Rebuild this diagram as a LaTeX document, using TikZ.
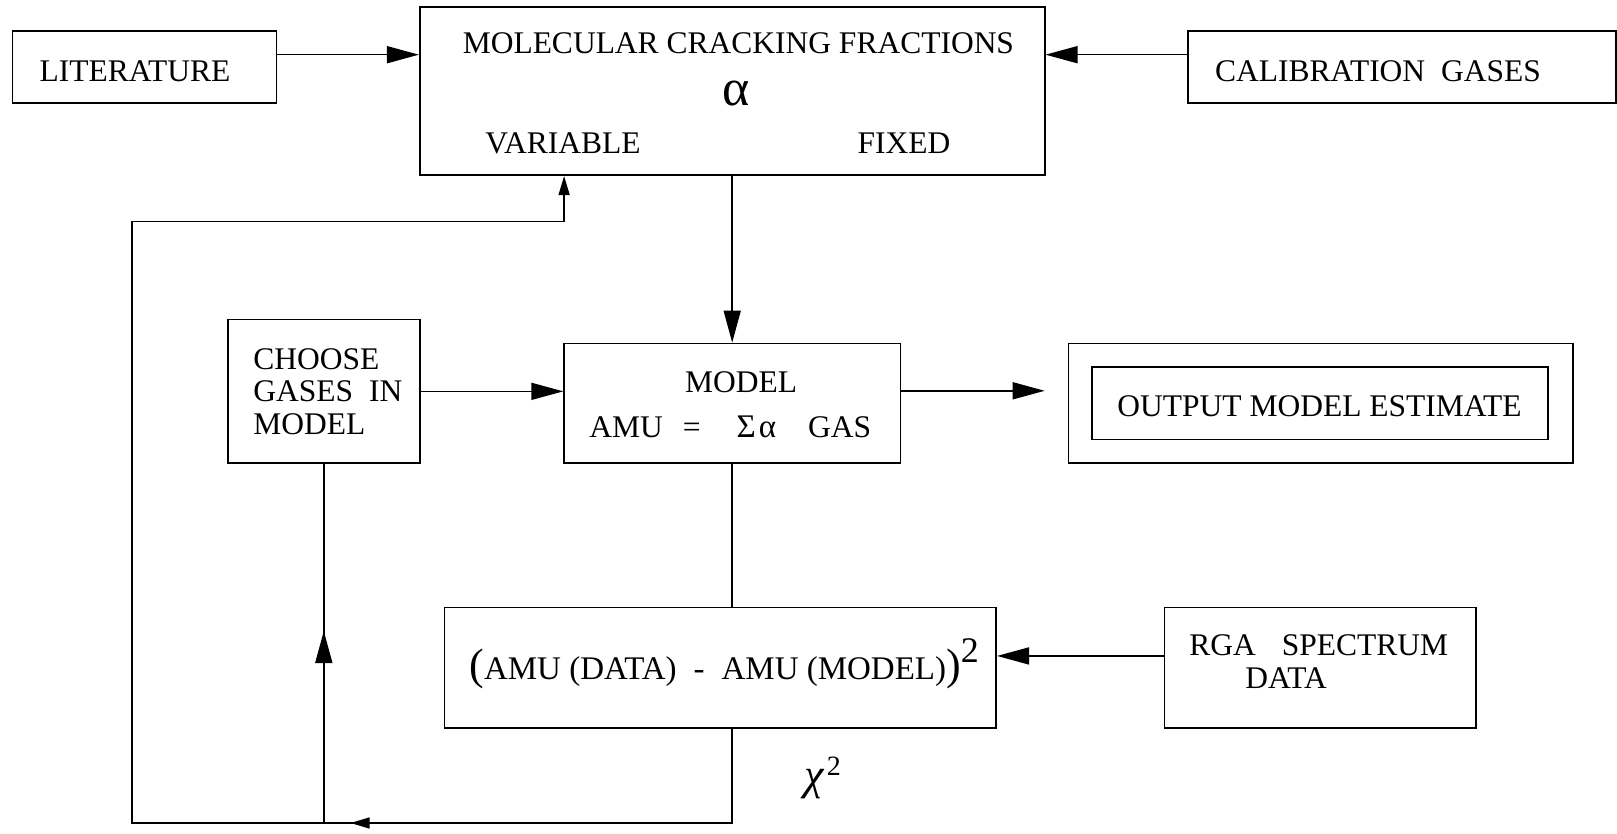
\documentclass[tikz,border=0pt]{standalone}
\usepackage{fontspec}
\setmainfont{Liberation Serif}
\usetikzlibrary{arrows.meta}
\begin{document}
\begin{tikzpicture}[x=0.5pt,y=-0.5pt,
  box/.style={draw, line width=0.8pt, inner sep=0pt},
  lbl/.style={inner sep=0pt, font=\fontsize{15.75}{17}\selectfont},
  ln/.style={line width=0.8pt},
  arr/.style={ln, -{Triangle[length=16pt,width=8.5pt]}},
  sarr/.style={ln, -{Triangle[length=9.5pt,width=5.5pt]}},
]
\useasboundingbox (0,0) rectangle (1617,834);
% boxes
\node[box, minimum width=132pt, minimum height=36.1pt] (lit) at (144.4,67) {};
\node[box, minimum width=312.5pt, minimum height=84pt] (top) at (732.2,91.25) {};
\node[box, minimum width=214pt, minimum height=36.1pt] (cal) at (1402,67) {};
\node[box, minimum width=95.9pt, minimum height=71.65pt] (choose) at (323.8,391.35) {};
\node[box, minimum width=168.1pt, minimum height=59.8pt] (model) at (732.2,403.2) {};
\node[box, minimum width=252.15pt, minimum height=59.8pt] (outer) at (1320.55,403.2) {};
\node[box, minimum width=227.9pt, minimum height=36.1pt] (inner) at (1320,403.2) {};
\node[box, minimum width=275.85pt, minimum height=60.35pt] (diff) at (720.35,667.75) {};
\node[box, minimum width=155.7pt, minimum height=60.35pt] (rga) at (1320,667.75) {};
% texts
\node[lbl, anchor=base west] (tlit) at (39.2,81.5) {LITERATURE};
\node[lbl, anchor=base west] (tcal) at (1214.8,81.5) {CALIBRATION\hspace{8pt}GASES};
\node[lbl, anchor=base] (tmol) at (738.4,53.6) {MOLECULAR CRACKING FRACTIONS};
\node[lbl, anchor=base, font=\fontsize{26}{26}\selectfont] (talpha) at (736,106) {α};
\node[lbl, anchor=base] (tvar) at (563,153.7) {VARIABLE};
\node[lbl, anchor=base] (tfix) at (904,153.7) {FIXED};
\node[lbl, anchor=base west] (tch1) at (253,369) {CHOOSE};
\node[lbl, anchor=base west] (tch2) at (253,401.5) {GASES\hspace{8pt}IN};
\node[lbl, anchor=base west] (tch3) at (253,434) {MODEL};
\node[lbl, anchor=base] (tmod) at (741,393) {MODEL};
\node[lbl, anchor=base west] (teq) at (589,437.5) {AMU\hspace{10pt}=\hspace{18pt}{\fontsize{16.5}{16.5}\selectfont Σ\hspace{1.5pt}α}\hspace{16pt}GAS};
\node[lbl, anchor=base west] (tout) at (1117,416) {OUTPUT MODEL ESTIMATE};
\node[lbl, anchor=base west, font=\fontsize{16.5}{17}\selectfont] (tdiff) at (469,679) {{\fontsize{22}{22}\selectfont(}AMU (DATA)\hspace{8.5pt}-\hspace{8.5pt}AMU (MODEL){\fontsize{22}{22}\selectfont)}\raisebox{8.5pt}{\fontsize{18}{18}\selectfont 2}};
\node[lbl, anchor=base west] (trga1) at (1189,655) {RGA\hspace{13pt}SPECTRUM};
\node[lbl, anchor=base west] (trga2) at (1245,688) {DATA};
\node[lbl, anchor=base west] (tchi) at (804,789) {{\fontsize{22}{22}\selectfont\itshape χ}\hspace{1.5pt}\raisebox{7pt}{\fontsize{14}{14}\selectfont 2}};
% coordinates
\coordinate (fbR) at (732.2,823);
\coordinate (fbL) at (132,823);
\coordinate (fbTL) at (132,221.7);
\coordinate (fbTR) at (564.1,221.7);
\coordinate (botTip) at (350.6,823);
\coordinate (upTip) at (323.8,631);
\coordinate (outTip) at (1044.7,390.8);
% connectors
\draw[arr] ([yshift=6.15pt]lit.east) -- ([yshift=6.15pt]lit.east -| top.west);
\draw[arr] ([yshift=6.15pt]cal.west) -- ([yshift=6.15pt]cal.west -| top.east);
\draw[arr] (top.south) -- (model.north);
\draw[arr] (choose.east) -- (choose.east -| model.west);
\draw[arr] ([yshift=6.2pt]model.east) -- (outTip);
\draw[ln] (model.south) -- (model.south |- diff.north);
\draw[arr] ([yshift=5.9pt]rga.west) -- ([yshift=5.9pt]rga.west -| diff.east);
\draw[ln] (fbR |- diff.south) -- (fbR) -- (fbL) -- (fbTL) -- (fbTR);
\draw[sarr] (fbTR) -- (fbTR |- top.south);
\draw[sarr] (fbR) -- (botTip);
\draw[ln] (choose.south |- fbR) -- (choose.south);
\draw[arr] (choose.south |- fbR) -- (upTip);
\end{tikzpicture}
\end{document}
